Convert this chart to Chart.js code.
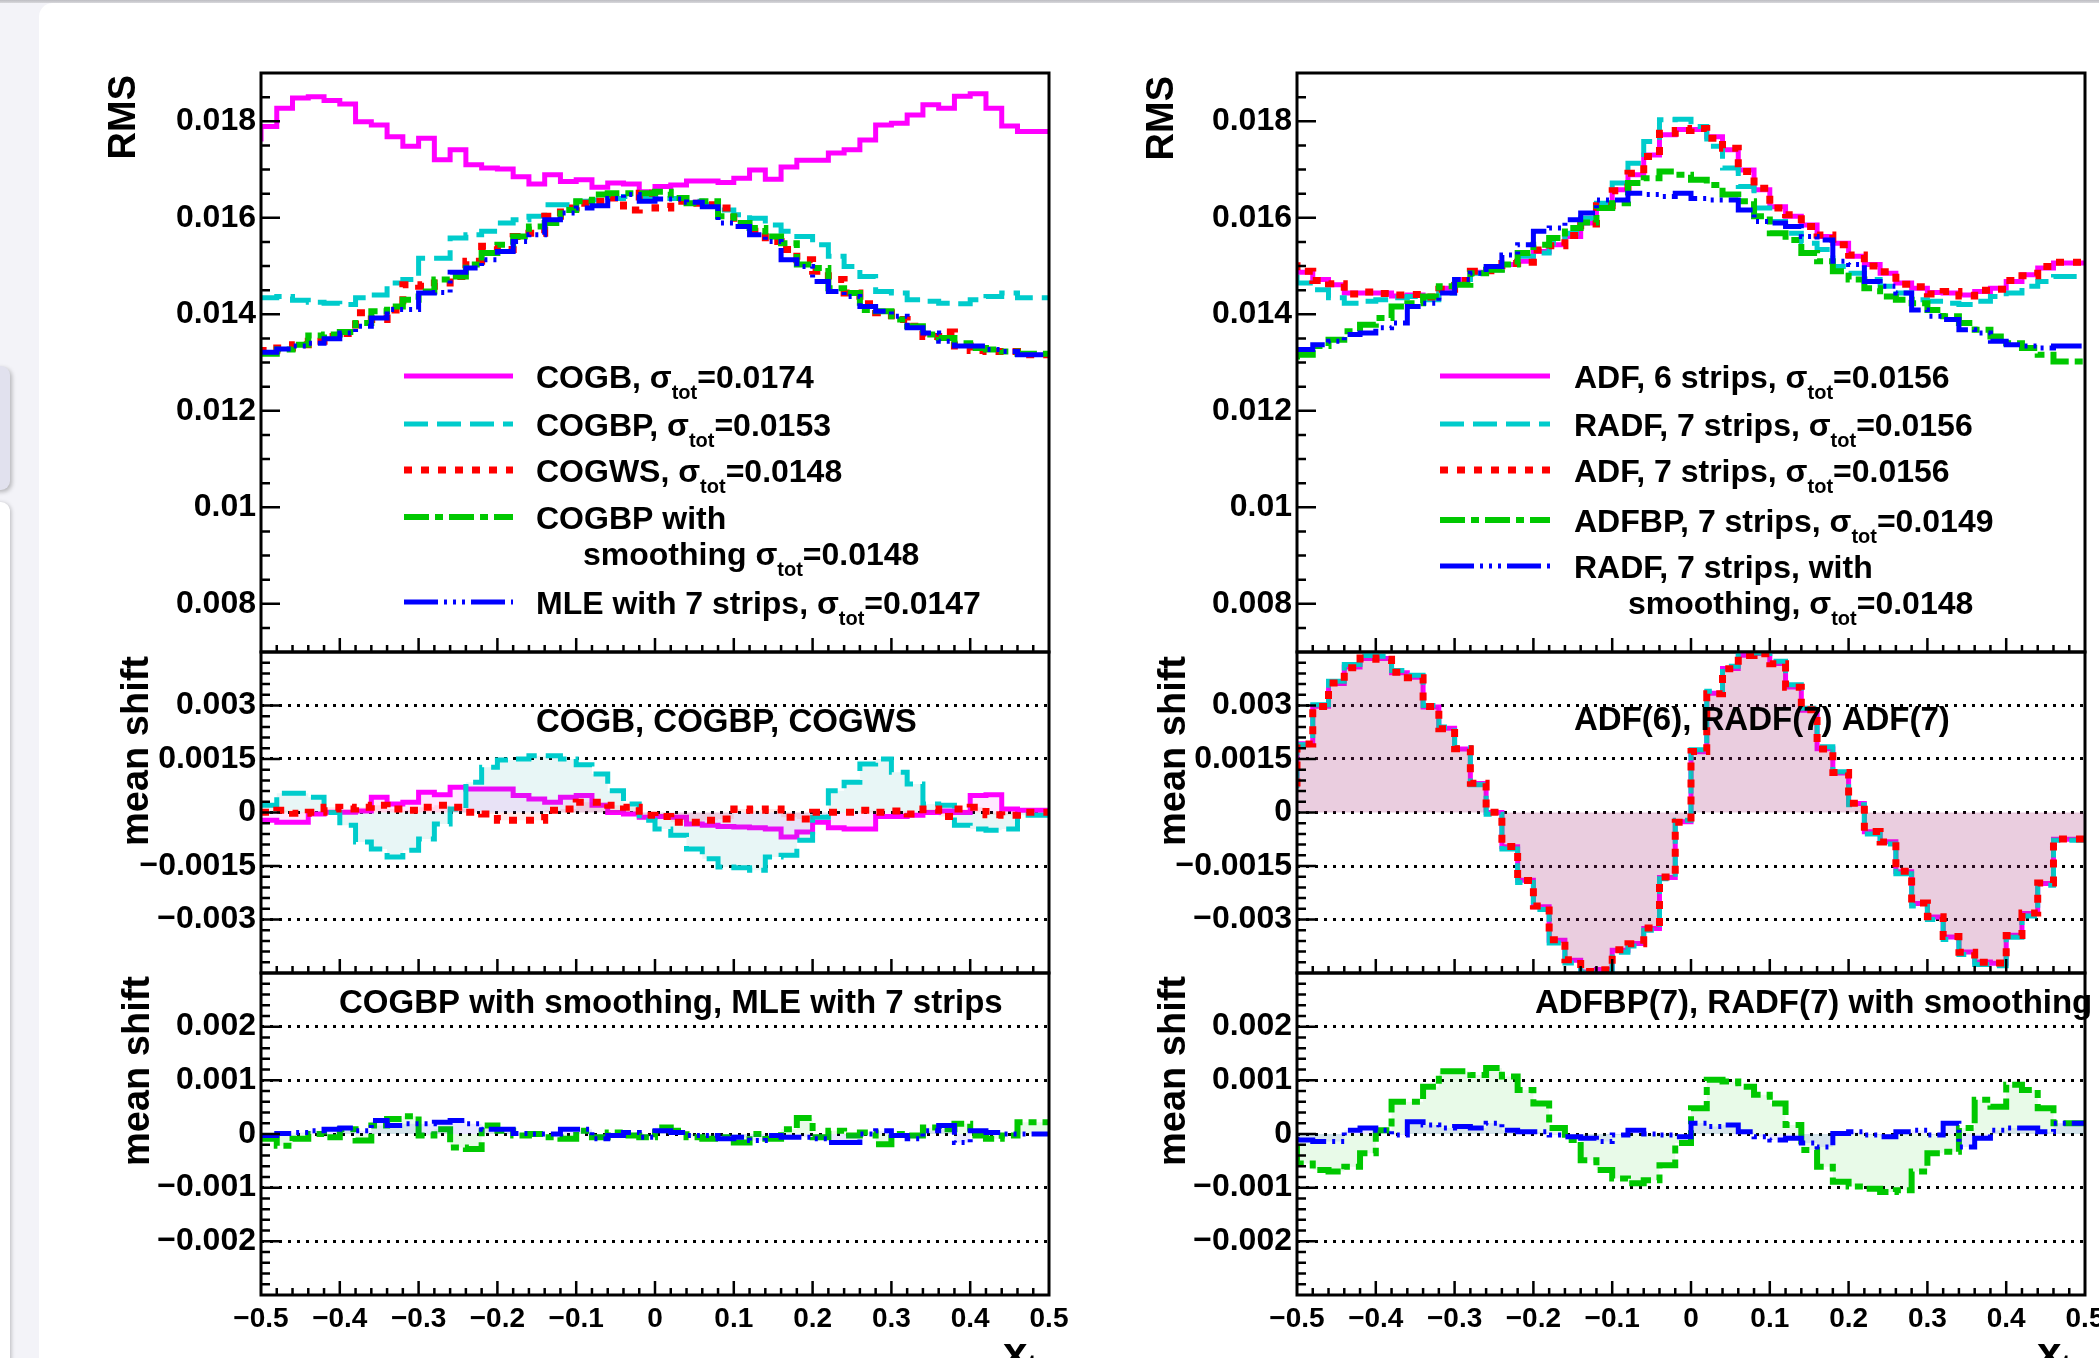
<!DOCTYPE html>
<html><head><meta charset="utf-8">
<script src="https://cdn.jsdelivr.net/npm/chart.js@4.4.0/dist/chart.umd.min.js"></script>
<style>
html,body{margin:0;padding:0;width:2099px;height:1358px;overflow:hidden;background:#f3f3f8;position:relative;}
#topbar{position:absolute;left:0;top:0;width:2099px;height:3px;background:linear-gradient(#bdbdc2,#d8d8dc);}
#card{position:absolute;left:39px;top:3px;width:2100px;height:1400px;background:#fff;border-top-left-radius:14px;}
#tab1{position:absolute;left:-20px;top:366px;width:30px;height:124px;background:#e1e1ee;border-radius:9px;box-shadow:2px 2px 4px rgba(0,0,0,0.25);}
#tab2{position:absolute;left:-20px;top:502px;width:30px;height:900px;background:#fff;border-radius:9px;box-shadow:1px 1px 4px rgba(0,0,0,0.25);}
canvas{position:absolute;}
</style></head>
<body>
<div id="topbar"></div><div id="card"></div><div id="tab1"></div><div id="tab2"></div>
<canvas id="L1" style="left:0px;top:0px;width:1110px;height:690px" width="1110" height="690"></canvas>
<canvas id="L2" style="left:0px;top:614px;width:1110px;height:397px" width="1110" height="397"></canvas>
<canvas id="L3" style="left:0px;top:935px;width:1110px;height:423px" width="1110" height="423"></canvas>
<canvas id="R1" style="left:1040px;top:0px;width:1100px;height:690px" width="1100" height="690"></canvas>
<canvas id="R2" style="left:1040px;top:614px;width:1100px;height:397px" width="1100" height="397"></canvas>
<canvas id="R3" style="left:1040px;top:935px;width:1100px;height:423px" width="1100" height="423"></canvas>
<script>
// ---------------- DATA ----------------
const binLow = [-0.50,-0.48,-0.46,-0.44,-0.42,-0.40,-0.38,-0.36,-0.34,-0.32,-0.30,-0.28,-0.26,-0.24,-0.22,-0.20,-0.18,-0.16,-0.14,-0.12,-0.10,-0.08,-0.06,-0.04,-0.02,0.00,0.02,0.04,0.06,0.08,0.10,0.12,0.14,0.16,0.18,0.20,0.22,0.24,0.26,0.28,0.30,0.32,0.34,0.36,0.38,0.40,0.42,0.44,0.46,0.48];
const binHighEnd = 0.5;

// RMS, left panel
const rmsCOGB = [0.01758,0.01789,0.01827,0.01848,0.01851,0.01843,0.01836,0.01799,0.01792,0.01768,0.01748,0.01765,0.01720,0.01741,0.01710,0.01703,0.01701,0.01685,0.01670,0.01689,0.01675,0.01679,0.01663,0.01672,0.01670,0.01654,0.01665,0.01668,0.01676,0.01676,0.01673,0.01682,0.01699,0.01680,0.01705,0.01719,0.01719,0.01734,0.01741,0.01761,0.01792,0.01796,0.01813,0.01834,0.01827,0.01852,0.01857,0.01827,0.01790,0.01779];
const rmsCOGBP = [0.01438,0.01434,0.01437,0.01429,0.01425,0.01423,0.01420,0.01434,0.01440,0.01465,0.01472,0.01516,0.01516,0.01558,0.01565,0.01572,0.01589,0.01596,0.01603,0.01627,0.01627,0.01634,0.01637,0.01640,0.01644,0.01644,0.01640,0.01640,0.01634,0.01627,0.01616,0.01606,0.01599,0.01585,0.01572,0.01561,0.01544,0.01520,0.01499,0.01478,0.01447,0.01444,0.01430,0.01427,0.01423,0.01422,0.01430,0.01437,0.01444,0.01434];
const rmsCOGWS = [0.01320,0.01325,0.01330,0.01337,0.01344,0.01354,0.01360,0.01403,0.01389,0.01409,0.01461,0.01458,0.01465,0.01478,0.01510,0.01541,0.01534,0.01561,0.01568,0.01603,0.01620,0.01630,0.01634,0.01641,0.01616,0.01651,0.01620,0.01634,0.01630,0.01627,0.01620,0.01585,0.01572,0.01551,0.01534,0.01513,0.01489,0.01472,0.01444,0.01422,0.01403,0.01389,0.01375,0.01354,0.01363,0.01334,0.01325,0.01323,0.01323,0.01316];
const rmsCOGBPsm = [0.01320,0.01318,0.01327,0.01337,0.01356,0.01358,0.01363,0.01382,0.01406,0.01416,0.01430,0.01447,0.01472,0.01478,0.01503,0.01527,0.01544,0.01561,0.01582,0.01589,0.01616,0.01634,0.01648,0.01651,0.01651,0.01651,0.01654,0.01641,0.01630,0.01634,0.01603,0.01589,0.01579,0.01561,0.01547,0.01503,0.01496,0.01454,0.01444,0.01409,0.01406,0.01389,0.01375,0.01358,0.01351,0.01340,0.01330,0.01327,0.01323,0.01318];
const rmsMLE7 = [0.01323,0.01321,0.01328,0.01334,0.01340,0.01349,0.01361,0.01375,0.01392,0.01410,0.01410,0.01444,0.01445,0.01487,0.01496,0.01513,0.01530,0.01551,0.01565,0.01596,0.01610,0.01620,0.01625,0.01640,0.01648,0.01634,0.01639,0.01639,0.01632,0.01623,0.01589,0.01582,0.01565,0.01551,0.01513,0.01499,0.01468,0.01447,0.01437,0.01416,0.01406,0.01396,0.01372,0.01361,0.01344,0.01334,0.01334,0.01327,0.01323,0.01316];

// RMS, right panel
const rmsADF6 = [0.01506,0.01487,0.01472,0.01461,0.01444,0.01444,0.01444,0.01438,0.01440,0.01437,0.01454,0.01472,0.01487,0.01492,0.01503,0.01510,0.01530,0.01544,0.01561,0.01589,0.01623,0.01658,0.01689,0.01730,0.01772,0.01783,0.01783,0.01768,0.01741,0.01699,0.01658,0.01623,0.01603,0.01585,0.01561,0.01547,0.01520,0.01503,0.01485,0.01465,0.01454,0.01445,0.01444,0.01440,0.01447,0.01454,0.01468,0.01482,0.01496,0.01506];
const rmsRADF7 = [0.01482,0.01465,0.01451,0.01434,0.01423,0.01427,0.01430,0.01434,0.01437,0.01430,0.01444,0.01472,0.01485,0.01492,0.01503,0.01520,0.01527,0.01547,0.01568,0.01599,0.01630,0.01672,0.01713,0.01758,0.01803,0.01804,0.01789,0.01748,0.01703,0.01665,0.01620,0.01592,0.01568,0.01547,0.01534,0.01499,0.01485,0.01472,0.01458,0.01444,0.01430,0.01427,0.01423,0.01420,0.01427,0.01437,0.01444,0.01458,0.01468,0.01478];
const rmsADF7 = [0.01508,0.01489,0.01470,0.01463,0.01442,0.01446,0.01443,0.01440,0.01441,0.01436,0.01452,0.01470,0.01489,0.01490,0.01505,0.01508,0.01533,0.01542,0.01563,0.01587,0.01625,0.01656,0.01692,0.01727,0.01775,0.01781,0.01785,0.01765,0.01744,0.01696,0.01661,0.01620,0.01606,0.01582,0.01564,0.01544,0.01523,0.01500,0.01488,0.01462,0.01457,0.01442,0.01447,0.01438,0.01450,0.01452,0.01470,0.01480,0.01499,0.01508];
const rmsADFBP7 = [0.01306,0.01316,0.01334,0.01347,0.01365,0.01378,0.01392,0.01416,0.01423,0.01437,0.01458,0.01461,0.01485,0.01492,0.01503,0.01527,0.01544,0.01558,0.01579,0.01590,0.01620,0.01630,0.01672,0.01682,0.01696,0.01689,0.01679,0.01668,0.01648,0.01634,0.01603,0.01568,0.01554,0.01527,0.01510,0.01489,0.01472,0.01454,0.01437,0.01430,0.01423,0.01409,0.01396,0.01382,0.01368,0.01354,0.01340,0.01330,0.01316,0.01302];
const rmsRADF7sm = [0.01330,0.01327,0.01337,0.01344,0.01358,0.01361,0.01372,0.01382,0.01416,0.01423,0.01444,0.01472,0.01485,0.01499,0.01523,0.01544,0.01572,0.01579,0.01596,0.01610,0.01637,0.01637,0.01651,0.01648,0.01644,0.01651,0.01640,0.01637,0.01637,0.01616,0.01592,0.01589,0.01582,0.01561,0.01554,0.01510,0.01503,0.01468,0.01458,0.01444,0.01409,0.01396,0.01389,0.01368,0.01361,0.01344,0.01337,0.01334,0.01330,0.01334];

// mean shift, left middle
const shiftCOGB = [-0.00022,-0.00022,-0.00027,-0.00027,-0.00004,0.00001,0.00001,0.00004,0.00043,0.00024,0.00029,0.00057,0.00050,0.00071,0.00066,0.00066,0.00066,0.00048,0.00038,0.00029,0.00043,0.00048,0.00020,0.00000,-0.00004,-0.00013,-0.00011,-0.00013,-0.00032,-0.00036,-0.00039,-0.00041,-0.00043,-0.00046,-0.00069,-0.00055,-0.00027,-0.00043,-0.00046,-0.00046,-0.00011,-0.00011,-0.00008,0.00000,0.00004,0.00000,0.00048,0.00050,0.00010,0.00006];
const shiftCOGBP = [0.00020,0.00020,0.00054,0.00054,0.00043,0.00000,-0.00036,-0.00083,-0.00102,-0.00125,-0.00106,-0.00074,-0.00032,0.00010,0.00085,0.00127,0.00147,0.00150,0.00159,0.00159,0.00150,0.00134,0.00108,0.00061,0.00024,-0.00022,-0.00046,-0.00064,-0.00102,-0.00130,-0.00153,-0.00155,-0.00162,-0.00125,-0.00120,-0.00078,-0.00013,0.00061,0.00085,0.00136,0.00150,0.00113,0.00080,0.00024,0.00020,-0.00036,-0.00046,-0.00050,-0.00046,-0.00008];
const shiftCOGWS = [0.00001,0.00001,0.00006,-0.00002,0.00001,0.00015,0.00010,0.00015,0.00020,0.00010,0.00006,0.00015,0.00020,0.00015,0.00001,-0.00004,-0.00022,-0.00022,-0.00022,0.00006,0.00010,0.00029,0.00029,0.00020,0.00015,-0.00008,-0.00011,-0.00027,-0.00027,-0.00022,-0.00018,0.00010,0.00006,0.00010,-0.00013,-0.00018,0.00001,0.00001,0.00001,0.00006,0.00001,0.00004,-0.00004,0.00010,-0.00011,0.00010,0.00015,-0.00006,-0.00008,0.00001];

// mean shift, right middle
const shiftADF6 = [0.00072,0.00193,0.00298,0.00362,0.00408,0.00432,0.00432,0.00392,0.00379,0.00296,0.00236,0.00178,0.00081,0.00000,-0.00096,-0.00190,-0.00264,-0.00358,-0.00414,-0.00447,-0.00440,-0.00386,-0.00367,-0.00325,-0.00182,-0.00026,0.00170,0.00334,0.00404,0.00441,0.00446,0.00418,0.00352,0.00287,0.00179,0.00111,0.00025,-0.00054,-0.00082,-0.00166,-0.00255,-0.00293,-0.00349,-0.00391,-0.00419,-0.00423,-0.00344,-0.00283,-0.00199,-0.00075];
const shiftRADF7 = [0.00068,0.00190,0.00302,0.00368,0.00415,0.00440,0.00438,0.00398,0.00385,0.00300,0.00240,0.00182,0.00078,-0.00005,-0.00102,-0.00196,-0.00272,-0.00366,-0.00422,-0.00449,-0.00446,-0.00392,-0.00374,-0.00330,-0.00186,-0.00022,0.00176,0.00340,0.00410,0.00446,0.00447,0.00424,0.00358,0.00292,0.00184,0.00114,0.00022,-0.00060,-0.00088,-0.00172,-0.00262,-0.00300,-0.00356,-0.00398,-0.00426,-0.00430,-0.00350,-0.00290,-0.00204,-0.00078];
const shiftADF7 = [0.00073,0.00192,0.00297,0.00363,0.00406,0.00433,0.00430,0.00393,0.00378,0.00297,0.00235,0.00179,0.00082,0.00001,-0.00095,-0.00191,-0.00262,-0.00357,-0.00413,-0.00446,-0.00441,-0.00385,-0.00368,-0.00324,-0.00181,-0.00027,0.00171,0.00333,0.00403,0.00440,0.00445,0.00417,0.00351,0.00288,0.00178,0.00112,0.00026,-0.00053,-0.00083,-0.00165,-0.00254,-0.00292,-0.00348,-0.00392,-0.00420,-0.00422,-0.00345,-0.00282,-0.00198,-0.00074];

// mean shift, left bottom
const shiftCOGBPsm = [-0.00012,-0.00009,-0.00022,-0.00009,0.00000,-0.00006,0.00009,-0.00012,0.00016,0.00028,0.00033,-0.00003,0.00009,-0.00025,-0.00028,0.00016,0.00006,-0.00003,0.00000,-0.00006,-0.00009,0.00006,-0.00006,0.00003,-0.00003,-0.00006,0.00012,0.00006,-0.00006,-0.00009,-0.00006,-0.00016,0.00000,-0.00009,0.00009,0.00030,-0.00006,0.00006,-0.00003,0.00003,-0.00019,0.00000,-0.00003,0.00012,0.00009,0.00019,-0.00003,-0.00009,-0.00003,0.00022];
const shiftMLE7 = [0.00000,-0.00003,0.00001,0.00003,0.00006,0.00009,0.00011,0.00006,0.00025,0.00016,0.00019,0.00019,0.00022,0.00025,0.00019,0.00009,0.00009,0.00001,0.00000,0.00000,0.00009,0.00009,-0.00009,-0.00003,0.00003,-0.00006,0.00006,0.00003,-0.00003,-0.00003,-0.00009,-0.00006,-0.00012,-0.00003,-0.00006,-0.00006,-0.00009,-0.00016,-0.00016,0.00000,0.00006,-0.00003,-0.00009,0.00006,0.00016,-0.00016,0.00006,0.00003,0.00000,0.00000];

// mean shift, right bottom
const shiftADFBP7 = [-0.00021,-0.00055,-0.00067,-0.00070,-0.00061,-0.00036,0.00007,0.00060,0.00060,0.00088,0.00117,0.00117,0.00110,0.00123,0.00107,0.00082,0.00057,0.00011,-0.00011,-0.00049,-0.00067,-0.00083,-0.00092,-0.00086,-0.00058,-0.00017,0.00048,0.00101,0.00098,0.00088,0.00073,0.00057,0.00017,-0.00030,-0.00061,-0.00089,-0.00098,-0.00102,-0.00108,-0.00105,-0.00070,-0.00036,-0.00033,0.00011,0.00064,0.00051,0.00092,0.00082,0.00048,0.00020];
const shiftRADF7sm = [-0.00005,-0.00011,-0.00014,-0.00014,0.00007,0.00011,0.00007,-0.00002,0.00023,0.00017,0.00011,0.00014,0.00011,0.00020,0.00007,0.00004,0.00004,-0.00002,-0.00005,-0.00008,-0.00014,-0.00002,0.00007,0.00000,-0.00002,-0.00005,0.00020,0.00014,0.00017,0.00004,-0.00005,-0.00011,-0.00008,-0.00017,-0.00024,0.00001,0.00004,-0.00002,-0.00005,0.00004,0.00007,-0.00002,0.00020,-0.00024,-0.00008,0.00007,0.00011,0.00011,0.00004,0.00020];

// tick labels
const xTickValues = [-0.5,-0.4,-0.3,-0.2,-0.1,0,0.1,0.2,0.3,0.4,0.5];
const xTickLabels = ['\u22120.5','\u22120.4','\u22120.3','\u22120.2','\u22120.1','0','0.1','0.2','0.3','0.4','0.5'];
const rmsTickValues = [0.008,0.010,0.012,0.014,0.016,0.018];
const rmsTickLabels = ['0.008','0.01','0.012','0.014','0.016','0.018'];
const midTickValues = [-0.003,-0.0015,0,0.0015,0.003];
const midTickLabels = ['\u22120.003','\u22120.0015','0','0.0015','0.003'];
const lowTickValues = [-0.002,-0.001,0,0.001,0.002];
const lowTickLabels = ['\u22120.002','\u22120.001','0','0.001','0.002'];

// texts
const legendLeft = [['COGB, \u03c3_{tot}=0.0174'],['COGBP, \u03c3_{tot}=0.0153'],['COGWS, \u03c3_{tot}=0.0148'],['COGBP with','smoothing \u03c3_{tot}=0.0148'],['MLE with 7 strips, \u03c3_{tot}=0.0147']];
const legendRight = [['ADF, 6 strips, \u03c3_{tot}=0.0156'],['RADF, 7 strips, \u03c3_{tot}=0.0156'],['ADF, 7 strips, \u03c3_{tot}=0.0156'],['ADFBP, 7 strips, \u03c3_{tot}=0.0149'],['RADF, 7 strips, with','smoothing, \u03c3_{tot}=0.0148']];
const titleLeftMid = 'COGB, COGBP, COGWS';
const titleLeftLow = 'COGBP with smoothing, MLE with 7 strips';
const titleRightMid = 'ADF(6), RADF(7) ADF(7)';
const titleRightLow = 'ADFBP(7), RADF(7) with smoothing';
const xAxisTitle = 'x_{tr}';

// ---------------- STYLE ----------------
const FONT = '"Liberation Sans", Arial, Helvetica, sans-serif';
const ST = {
  mag:   {color:'#ff00ff', width:5, dash:[], fill:'rgba(255,0,255,0.09)'},
  cyan:  {color:'#00cccc', width:5, dash:[24,9], fill:'rgba(0,150,150,0.09)'},
  red:   {color:'#ff0000', width:7, dash:[8,9], fill:'rgba(255,0,0,0.09)'},
  green: {color:'#00c800', width:6, dash:[25,6,8,6], fill:'rgba(0,200,0,0.09)'},
  blue:  {color:'#0000ff', width:5, dash:[34,6,3,6,3,6,3,6], fill:'rgba(0,0,255,0.09)'}
};

function hist(vals, st, fill){
  const pts = vals.map((v,i)=>({x:binLow[i], y:v}));
  pts.push({x:binHighEnd, y:vals[vals.length-1]});
  return {data:pts, stepped:'after', borderColor:st.color, borderWidth:st.width, borderDash:st.dash,
    borderCapStyle:'butt', borderJoinStyle:'miter', pointRadius:0, tension:0,
    fill: fill ? 'origin' : false, backgroundColor: fill ? st.fill : 'transparent'};
}

function parseRich(s){
  const parts=[]; const re=/_\{([^}]*)\}/g; let last=0,m;
  while((m=re.exec(s))){ if(m.index>last) parts.push({t:s.slice(last,m.index)}); parts.push({t:m[1],sub:true}); last=re.lastIndex; }
  if(last<s.length) parts.push({t:s.slice(last)});
  return parts;
}
function drawRich(ctx,s,x,y,size,subSize,subDy){
  let cx=x;
  for(const p of parseRich(s)){
    const fs = p.sub ? subSize : size;
    ctx.font = `bold ${fs}px ${FONT}`;
    ctx.fillText(p.t, cx, p.sub ? y+subDy : y);
    cx += ctx.measureText(p.t).width;
  }
}

function decoPlugin(d){
  return {
    id:'deco',
    afterDatasetsDraw(chart){
      const ctx=chart.ctx, a=chart.chartArea, xs=chart.scales.x, ys=chart.scales.y;
      ctx.save();
      ctx.setLineDash([]); ctx.strokeStyle='#000'; ctx.lineWidth=2.5;
      ctx.beginPath();
      const ny=Math.round((ys.max-ys.min)/d.yMinor);
      for(let i=1;i<ny;i++){
        const v=ys.min+i*d.yMinor, r=v/d.yMajor;
        const L=Math.abs(r-Math.round(r))<1e-6?19:9;
        const p=ys.getPixelForValue(v);
        ctx.moveTo(a.left,p); ctx.lineTo(a.left+L,p);
      }
      const nx=Math.round((xs.max-xs.min)/0.02);
      for(let i=1;i<nx;i++){
        const v=xs.min+i*0.02, r=v/0.1;
        const L=Math.abs(r-Math.round(r))<1e-6?14:7;
        const p=xs.getPixelForValue(v);
        ctx.moveTo(p,a.bottom); ctx.lineTo(p,a.bottom-L);
      }
      ctx.stroke();
      ctx.lineWidth=3;
      ctx.strokeRect(a.left,a.top,a.right-a.left,a.bottom-a.top);
      ctx.restore();
    },
    afterDraw(chart){
      const ctx=chart.ctx, a=chart.chartArea;
      ctx.save();
      ctx.fillStyle='#000'; ctx.textAlign='left'; ctx.textBaseline='alphabetic';
      if(d.yTitle){
        ctx.save();
        ctx.translate(d.yTitle.x, d.yTitle.top);
        ctx.rotate(-Math.PI/2);
        ctx.textAlign='right';
        ctx.font=`bold ${d.yTitle.size}px ${FONT}`;
        ctx.fillText(d.yTitle.text,0,0);
        ctx.restore();
      }
      if(d.title){
        drawRich(ctx, d.title.text, a.left+d.title.dx, a.top+d.title.dy, 33, 22, 11);
      }
      if(d.legend){
        const L=d.legend;
        L.entries.forEach((lines,i)=>{
          const st=L.styles[i], y=a.top+L.rows[i];
          ctx.save();
          ctx.strokeStyle=st.color; ctx.lineWidth=st.width; ctx.setLineDash(st.dash); ctx.lineCap='butt';
          ctx.beginPath(); ctx.moveTo(a.left+L.x0,y); ctx.lineTo(a.left+L.x1,y); ctx.stroke();
          ctx.restore();
          drawRich(ctx, lines[0], a.left+L.tx, y+11.5, 32, 20, 11);
          if(lines[1]) drawRich(ctx, lines[1], a.left+L.tx2, a.top+L.row2[i]+11.5, 32, 20, 11);
        });
      }
      if(d.xTitle){
        drawRich(ctx, xAxisTitle, a.left+d.xTitle.dx, a.bottom+d.xTitle.dy, 44, 28, 6);
      }
      ctx.restore();
    }
  };
}

function yScale(min,max,vals,labels,w,dotted){
  return {type:'linear', min:min, max:max,
    afterBuildTicks: s=>{ s.ticks = vals.map(v=>({value:v})); },
    afterFit: s=>{ s.width = w; },
    ticks:{callback:(v,i)=>labels[i], autoSkip:false, padding:5, color:'#000', font:{family:FONT, size:32, weight:'bold'}},
    grid:{display:dotted, drawTicks:false, color:'#000', lineWidth:3},
    border:{display:false, dash:[3,6]}
  };
}
function xScale(show){
  if(!show) return {type:'linear', min:-0.5, max:0.5, display:false};
  return {type:'linear', min:-0.5, max:0.5,
    afterBuildTicks: s=>{ s.ticks = xTickValues.map(v=>({value:v})); },
    afterFit: s=>{ s.height = 63; },
    ticks:{callback:(v,i)=>xTickLabels[i], autoSkip:false, maxRotation:0, padding:7, color:'#000', font:{family:FONT, size:28, weight:'bold'}},
    grid:{display:false, drawTicks:false}, border:{display:false}
  };
}

function make(id, datasets, y, x, padding, deco){
  new Chart(document.getElementById(id), {
    type:'line',
    data:{datasets:datasets},
    options:{responsive:false, animation:false, events:[], devicePixelRatio:1,
      layout:{padding:padding},
      plugins:{legend:{display:false}, tooltip:{enabled:false}},
      scales:{x:x, y:y}},
    plugins:[decoPlugin(deco)]
  });
}

const legendLStyles=[ST.mag,ST.cyan,ST.red,ST.green,ST.blue];

// ---- left column ----
make('L1',
  [hist(rmsMLE7,ST.blue), hist(rmsCOGBPsm,ST.green), hist(rmsCOGWS,ST.red), hist(rmsCOGBP,ST.cyan), hist(rmsCOGB,ST.mag)],
  yScale(0.007,0.019,rmsTickValues,rmsTickLabels,261,false), xScale(false),
  {left:0,right:61,top:73,bottom:38},
  {yMinor:0.0005,yMajor:0.002, yTitle:{text:'RMS',x:135,top:75,size:38},
   legend:{entries:legendLeft, styles:legendLStyles, rows:[303,351,397,444,529], row2:[0,0,0,480,0], x0:143, x1:252, tx:275, tx2:322}});
make('L2',
  [hist(shiftCOGWS,ST.red,true), hist(shiftCOGBP,ST.cyan,true), hist(shiftCOGB,ST.mag,true)],
  yScale(-0.0045,0.0045,midTickValues,midTickLabels,261,true), xScale(false),
  {left:0,right:61,top:38,bottom:38},
  {yMinor:0.0003,yMajor:0.0015, yTitle:{text:'mean shift',x:148,top:42,size:38}, title:{text:titleLeftMid,dx:275,dy:80}});
make('L3',
  [hist(shiftMLE7,ST.blue,true), hist(shiftCOGBPsm,ST.green,true)],
  yScale(-0.003,0.003,lowTickValues,lowTickLabels,261,true), xScale(true),
  {left:0,right:61,top:38,bottom:0},
  {yMinor:0.0002,yMajor:0.001, yTitle:{text:'mean shift',x:149,top:41,size:38}, title:{text:titleLeftLow,dx:78,dy:40}, xTitle:{dx:742,dy:73}});

// ---- right column ----
make('R1',
  [hist(rmsRADF7sm,ST.blue), hist(rmsADFBP7,ST.green), hist(rmsADF7,ST.red), hist(rmsRADF7,ST.cyan), hist(rmsADF6,ST.mag)],
  yScale(0.007,0.019,rmsTickValues,rmsTickLabels,257,false), xScale(false),
  {left:0,right:55,top:73,bottom:38},
  {yMinor:0.0005,yMajor:0.002, yTitle:{text:'RMS',x:133,top:76,size:38},
   legend:{entries:legendRight, styles:legendLStyles, rows:[303,351,397,447,493], row2:[0,0,0,0,529], x0:143, x1:253, tx:277, tx2:331}});
make('R2',
  [hist(shiftADF7,ST.red,true), hist(shiftRADF7,ST.cyan,true), hist(shiftADF6,ST.mag,true)],
  yScale(-0.0045,0.0045,midTickValues,midTickLabels,257,true), xScale(false),
  {left:0,right:55,top:38,bottom:38},
  {yMinor:0.0003,yMajor:0.0015, yTitle:{text:'mean shift',x:145,top:42,size:38}, title:{text:titleRightMid,dx:277,dy:78}});
make('R3',
  [hist(shiftRADF7sm,ST.blue,true), hist(shiftADFBP7,ST.green,true)],
  yScale(-0.003,0.003,lowTickValues,lowTickLabels,257,true), xScale(true),
  {left:0,right:55,top:38,bottom:0},
  {yMinor:0.0002,yMajor:0.001, yTitle:{text:'mean shift',x:145,top:41,size:38}, title:{text:titleRightLow,dx:238,dy:40}, xTitle:{dx:740,dy:73}});
</script>
</body></html>
